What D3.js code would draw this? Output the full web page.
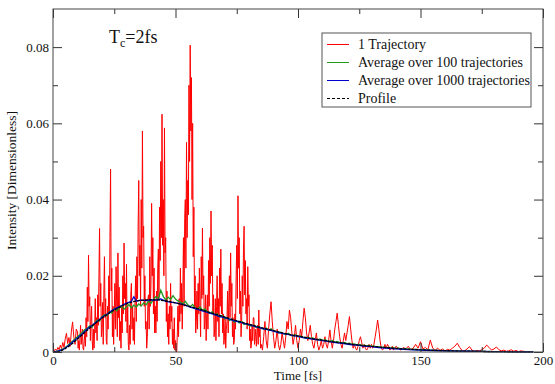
<!DOCTYPE html>
<html>
<head>
<meta charset="utf-8">
<script src="https://cdn.jsdelivr.net/npm/d3@7"></script>
<style>
  body { margin: 0; background: #fff; }
</style>
</head>
<body>
<div id="root"></div>
<script>
// intensities below are written in units of 1e-3 (dimensionless)
var FONT = "'Liberation Serif', 'Times New Roman', Times, serif";

// 1 trajectory, early part: [time fs, intensity x1e-3]
var trajHead = [
  [0,0],[0.5,0.3],[1,0.8],[1.5,0.4],[2,1.2],[2.5,0.6],[3,1.8],[3.5,0.9],[4,2.5],[4.5,1.2],
  [5,3.5],[5.5,4.9],[6,2.2],[6.5,3.8],[7,1.5],[7.5,5.5],[8,7.9],[8.5,4],[9,2],[9.5,6]
];

// 1 trajectory, dense part from t=10 fs in 0.25 fs steps (x1e-3)
var trajDenseStart = 10, trajDenseStep = 0.25;
var trajDense = [
  5.3,1,3,0.5,   3.5,7,2,4,      6,1,0.5,3,      5,1.5,9,4,      17,8,25.4,12,
  14.5,3,8,12,   3,0.5,6,1,      6,14,5,9,       3,15,7,20,      32.4,12,18,4,
  6,13,2,15,     25,9,14,3,      2,12,6,20,      10,30,48,16,    22,4,12,2,
  10,18,6,22.4,  12,4,26,9,      17,3,8,1,       12,5,20,10,     28.6,14,18,8,
  23,5,12,2,     0.5,7,2,15,     18,6,12,3,      9,2,14,20,      8,25,14,33,
  45,20,28,12,   40,22,58,30,    33,12,20,6,     8,1,4,14,       15,6,25,12,
  18,39,20,30,   10,22,5,12,     5,16,8,22,      27,14,38,24,    50,30,62.4,28,
  40,20,58.8,26, 30,8,16,4,      10,2,12,6,      18,8,12,2,      6,1,9,0.5,
  3,0.2,0,5,     12,4,14,8,      22,10,18,6,     16,30,12,35,    40,22,55,30,
  45,36,70,50,   80.5,58,72,40,  60,25,38,12,    20,5,8,16,      6,18,10,22,
  12,4,25,14,    32.5,15,20,6,   8,15,3,10,      15,6,24,12,     30,18,37,20,
  28,10,15,4,    6,14,3,12,      20,8,14,4,      22,12,27,10,    18,5,10,2,
  4,9,1,6,       8,16,5,14,      20,9,26,12,     18,4,9,2,       3,10,6,20,
  28,14,41,22,   30,10,16,4,     8,20,12,27,     33,15,24,10,    14,6,22.4,12,
  15,3,6,1,      2,7,3,9,        9,2,4,6,        1.5,5,7,2,      11,4,6,1
];

// 1 trajectory, tail from t=85 fs: [time fs, intensity x1e-3]
var trajTail = [
  [85,2],[85.5,0.5],[86,4],[86.5,8],[87,3],[87.5,1],[88,6],[88.5,10],[89,13.2],[89.5,8],
  [90,4],[90.5,1],[91,3],[91.5,6],[92,2],[92.5,0.5],[93,2],[93.5,5],[94,3],[94.5,1],
  [95,4],[95.5,8],[96,6],[96.5,11],[97,9],[97.5,5],[98,2],[98.5,4],[99,7],[99.5,3],
  [100,1],[100.5,3],[101,6],[101.5,4],[102,8],[102.5,11.5],[103,9],[103.5,5],[104,3],[104.5,5],
  [105,7],[105.5,4],[106,2],[106.5,1],[107,3],[107.5,5],[108,2],[108.5,0.5],[109,1.5],[109.5,3],
  [110,1],[110.5,2],[111,4],[111.5,2],[112,1],[112.5,3],[113,5.8],[113.5,3],[114,1],[114.5,3],
  [115,6],[115.5,8],[116,10.2],[116.5,7],[117,4],[117.5,2],[118,1],[118.5,3],[119,5],[119.5,3],
  [120,5],[120.5,7],[121,9.3],[121.5,6],[122,3],[122.5,1],[123,2],[123.5,1],[124,0.5],[124.5,1.5],
  [125,3],[125.5,4],[126,2.5],[126.5,1],[127,2],[127.5,1],[128,0.5],[128.5,1],[129,2],[129.5,1],
  [130,2],[130.5,1],[131,2],[131.5,4],[132,6],[132.5,8.4],[133,6],[133.5,3],[134,1],[134.5,0.5],
  [135,1],[135.5,2],[136,1],[136.5,2],[137,1.5],[137.5,0.5],[138,1],[138.5,1.5],[139,0.5],[140,1.5],
  [141,1],[142,0.5],[143,1.2],[144,0.8],[145,1.5],[146,0.6],[147,1],[148,2],[149,1],[150,2.7],
  [151,0.8],[152,1.2],[153,0.6],[154,3.1],[155,1],[156,0.5],[157,1],[158,0.4],[159,0.8],[160,0.3],
  [161,0.7],[162,0.5],[163,1],[164,1.5],[165,2.3],[166,1.2],[167,0.4],[168,0.3],[169,0.8],[170,1.4],
  [171,0.5],[172,0.2],[173,0.4],[174,0.3],[175,0.6],[176,1],[177,1.8],[178,1.2],[179,0.5],[180,0.8],
  [181,1.3],[182,0.6],[183,0.3],[184,0.5],[185,0.2],[186,0.3],[187,0.6],[188,0.2],[189,0.4],[190,0.1],
  [191,0.3],[192,0.2],[193,0.1],[194,0.05]
];

// average over 100 trajectories, 1 fs steps from t=0 (x1e-3)
var avg100 = [
  0,0.1,0.3,0.5,0.8,1.2,1.7,2.3,2.9,3.4,
  4.0,4.6,5.2,5.9,6.2,6.9,6.6,7.6,8.4,8.1,
  9.3,9.8,9.5,10.6,10.2,11.4,10.8,11.5,12.0,11.2,
  11.9,12.4,11.6,12.3,11.8,12.6,12.1,12.9,12.4,13.4,
  12.8,13.8,14.5,14.0,16.2,14.6,13.6,14.4,13.8,14.8,
  13.9,13.4,13.1,12.6,13.3,12.4,11.9,12.5,11.6,11.2,
  11.8,10.9,11.3,10.5,10.1,10.6,9.7,10.0,9.2,9.6,
  8.7,9.1,8.3,8.6,7.8,8.2,7.6,7.9,7.2,7.4,
  7.0,6.8,7.1,6.4,6.7,6.2,6.0,6.3,5.7,6.1,
  5.5,5.4,5.0,5.2,4.8,4.6,4.9,4.4,4.2,4.5,
  4.0,4.2,3.9,3.6,3.9,3.5,3.7,3.4,3.2,3.4,
  3.0,3.2,2.9,2.7,3.0,2.6,2.8,2.5,2.3,2.5,
  2.2,2.3,2.0,2.1,1.9,2.0,1.7,1.8,1.6,1.7,
  1.5,1.6,1.3,1.4,1.2,1.3,1.1,1.2,1.0,1.1,
  0.9,1.0,0.85,0.8,0.9,0.7,0.75,0.65,0.7,0.6,
  0.55,0.6,0.5,0.55,0.45,0.5,0.4,0.45,0.35,0.4,
  0.35,0.3,0.35,0.28,0.3,0.25,0.27,0.22,0.25,0.2,
  0.22,0.18,0.2,0.16,0.18,0.14,0.15,0.12,0.14,0.1,
  0.12,0.1,0.09,0.1,0.08,0.09,0.07,0.08,0.06,0.07,
  0.05,0.06,0.05,0.04,0.05,0.04,0.03
];

// average over 1000 trajectories: [time fs, intensity x1e-3]
var avg1000 = [
  [0,0],[2,0.2],[4,0.6],[6,1.5],[8,2.6],[10,3.7],[12,4.8],[14,6.1],[16,7.0],[18,8.0],
  [20,9.1],[22,9.9],[24,10.9],[26,11.6],[28,12.2],[30,12.8],[32,13.3],[33,14.5],[34,13.4],[36,13.6],
  [38,13.5],[40,13.7],[42,13.6],[44,13.9],[46,13.3],[48,13.1],[50,12.9],[52,12.6],[54,12.3],[56,11.8],
  [58,11.4],[60,11.0],[62,10.6],[64,10.2],[66,9.8],[68,9.3],[70,9.0],[72,8.6],[74,8.2],[76,7.9],
  [78,7.5],[80,7.2],[82,6.8],[84,6.4],[86,6.1],[88,5.8],[90,5.5],[92,5.1],[94,4.8],[96,4.6],
  [98,4.3],[100,4.1],[102,3.8],[104,3.6],[106,3.4],[108,3.2],[110,3.0],[112,2.8],[114,2.6],[116,2.4],
  [118,2.3],[120,2.1],[122,1.9],[124,1.8],[126,1.6],[128,1.5],[130,1.4],[132,1.2],[134,1.1],[136,1.0],
  [138,0.9],[140,0.8],[145,0.6],[150,0.5],[155,0.4],[160,0.3],[165,0.25],[170,0.2],[175,0.15],[180,0.1],
  [185,0.08],[190,0.05],[196,0.03]
];

// profile: [time fs, intensity x1e-3]
var profile = [
  [0,0],[1.5,0],[5,0.9],[10,3.4],[15,6.3],[20,8.9],[25,11.0],[30,12.6],[35,13.5],[40,13.7],
  [45,13.5],[50,12.9],[55,12.1],[60,11.2],[65,10.2],[70,9.2],[75,8.2],[80,7.3],[85,6.4],[90,5.6],
  [95,4.8],[100,4.2],[105,3.6],[110,3.1],[115,2.6],[120,2.2],[125,1.8],[130,1.5],[135,1.2],[140,0.95],
  [145,0.75],[150,0.6],[155,0.45],[160,0.35],[170,0.2],[180,0.1],[190,0.05],[196,0.02]
];

var xMajor = [0, 50, 100, 150, 200];
var xMinor = [25, 75, 125, 175];
var yMajor = [0, 0.02, 0.04, 0.06, 0.08];
var yMinor = [0.01, 0.03, 0.05, 0.07];

var legendItems = [
  { label: "1 Trajectory", color: "#ff0000", dash: null },
  { label: "Average over 100 trajectories", color: "#1f9a1f", dash: null },
  { label: "Average over 1000 trajectories", color: "#0000cc", dash: null },
  { label: "Profile", color: "#000", dash: "3,2" }
];

var W = 555, H = 384;
var margin = { top: 9, right: 12, bottom: 32, left: 53 },
  width = W - margin.left - margin.right,
  height = H - margin.top - margin.bottom;

var svg = d3.select("#root")
  .append("svg")
  .attr("width", W)
  .attr("height", H)
  .attr("font-family", FONT);

var g = svg.append("g")
  .attr("transform", "translate(" + margin.left + "," + margin.top + ")");

var x = d3.scaleLinear().domain([0, 200]).range([0, width]);
var y = d3.scaleLinear().domain([0, 0.09]).range([height, 0]);

var line = d3.line()
  .x(function (d) { return x(d[0]); })
  .y(function (d) { return y(d[1] / 1000); });

var trajectory = trajHead
  .concat(trajDense.map(function (v, i) { return [trajDenseStart + i * trajDenseStep, v]; }))
  .concat(trajTail);
var avg100Pts = avg100.map(function (v, i) { return [i, v]; });

g.append("path").datum(trajectory)
  .attr("fill", "none").attr("stroke", "#ff0000").attr("stroke-width", 1)
  .attr("stroke-linejoin", "round")
  .attr("d", line);

g.append("path").datum(avg100Pts)
  .attr("fill", "none").attr("stroke", "#1f9a1f").attr("stroke-width", 1.3)
  .attr("d", line);

g.append("path").datum(avg1000)
  .attr("fill", "none").attr("stroke", "#0000cc").attr("stroke-width", 1.3)
  .attr("d", line);

g.append("path").datum(profile)
  .attr("fill", "none").attr("stroke", "#000").attr("stroke-width", 1.3)
  .attr("stroke-dasharray", "3,1")
  .attr("d", line.curve(d3.curveMonotoneX));

// axes, ticks pointing inward on all four sides
function fmtY(d) { return d === 0 ? "0" : d.toFixed(2); }

var axes = [
  { a: d3.axisBottom(x).tickValues(xMajor).tickSize(-9).tickPadding(4).tickFormat(d3.format("d")), t: "translate(0," + height + ")" },
  { a: d3.axisBottom(x).tickValues(xMinor).tickSize(-5).tickFormat(""), t: "translate(0," + height + ")" },
  { a: d3.axisTop(x).tickValues(xMajor).tickSize(-9).tickFormat(""), t: null },
  { a: d3.axisTop(x).tickValues(xMinor).tickSize(-5).tickFormat(""), t: null },
  { a: d3.axisLeft(y).tickValues(yMajor).tickSize(-9).tickPadding(4).tickFormat(fmtY), t: null },
  { a: d3.axisLeft(y).tickValues(yMinor).tickSize(-5).tickFormat(""), t: null },
  { a: d3.axisRight(y).tickValues(yMajor).tickSize(-9).tickFormat(""), t: "translate(" + width + ",0)" },
  { a: d3.axisRight(y).tickValues(yMinor).tickSize(-5).tickFormat(""), t: "translate(" + width + ",0)" }
];
axes.forEach(function (ax) {
  var ag = g.append("g").call(ax.a)
    .attr("font-family", FONT).attr("font-size", 13);
  if (ax.t) ag.attr("transform", ax.t);
  ag.select(".domain").remove();
  ag.selectAll("line").attr("stroke", "#333");
  ag.selectAll("text").attr("fill", "#111");
});

g.append("rect")
  .attr("width", width).attr("height", height)
  .attr("fill", "none").attr("stroke", "#444").attr("stroke-width", 1);

// axis titles
svg.append("text")
  .attr("x", margin.left + width / 2).attr("y", 380)
  .attr("text-anchor", "middle").attr("font-size", 13).attr("fill", "#111")
  .text("Time [fs]");

svg.append("text")
  .attr("transform", "translate(16," + (margin.top + height / 2) + ") rotate(-90)")
  .attr("text-anchor", "middle").attr("font-size", 13.5).attr("fill", "#111")
  .text("Intensity [Dimensionless]");

// T_c label
var tc = svg.append("text").attr("x", 109).attr("y", 43).attr("font-size", 18).attr("fill", "#111");
tc.append("tspan").text("T");
tc.append("tspan").attr("font-size", 12).attr("dy", 4).text("c");
tc.append("tspan").attr("dy", -4).text("=2fs");

// legend
var lg = svg.append("g").attr("transform", "translate(322,33)");
lg.append("rect").attr("width", 209).attr("height", 74)
  .attr("fill", "#fff").attr("stroke", "#555").attr("stroke-width", 1);
legendItems.forEach(function (it, i) {
  var cy = 11.5 + i * 18;
  lg.append("line").attr("x1", 5).attr("x2", 27).attr("y1", cy).attr("y2", cy)
    .attr("stroke", it.color).attr("stroke-width", 1)
    .attr("stroke-dasharray", it.dash);
  lg.append("text").attr("x", 36).attr("y", cy + 4.5).attr("font-size", 14)
    .attr("fill", "#111").text(it.label);
});
</script>
</body>
</html>
